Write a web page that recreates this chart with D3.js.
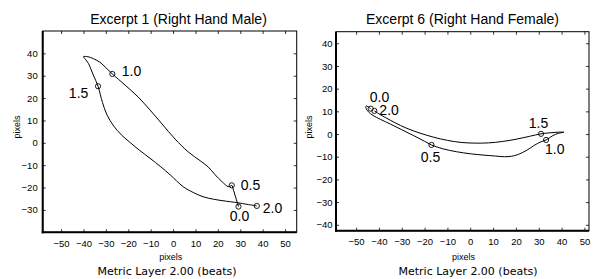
<!DOCTYPE html>
<html>
<head>
<meta charset="utf-8">
<script src="https://cdn.jsdelivr.net/npm/d3@7"></script>
<style>
  body { margin: 0; background: #fff; }
  svg { display: block; }
  .tick text { font-family: "Liberation Sans", Arial, sans-serif; font-size: 9.5px; fill: #000; }
</style>
</head>
<body>
<script>
// trajectory samples (pixels)
var maleX = [29.2, 28.6, 27.8, 27.0, 26.2, 25.5, 24.6, 21.9, 18.8, 15.6, 12.1, 6.7, 0.9, -4.9, -10.3, -15.6, -21.4, -27.1, -30.0, -32.6, -35.5, -38.0, -40.0, -39.2, -37.8, -35.6, -33.5, -31.5, -29.5, -26.5, -23.0, -19.0, -15.0, -10.3, -5.5, -1.3, 4.5, 9.0, 13.4, 18.0, 22.3, 29.0, 33.0, 37.4];
var maleY = [-28.5, -26.5, -23.8, -21.2, -19.0, -19.4, -19.6, -17.4, -14.3, -10.7, -8.0, -4.0, 1.7, 8.4, 14.7, 20.5, 25.8, 30.8, 33.6, 36.0, 37.6, 38.5, 38.5, 37.4, 35.5, 30.3, 25.3, 18.0, 12.5, 7.5, 3.5, 0.0, -3.3, -6.9, -10.7, -14.3, -19.6, -22.2, -24.1, -25.2, -25.9, -26.8, -27.5, -28.2];
var maleMarkX = [29.2, 26.2, -27.1, -33.5, 37.4];
var maleMarkY = [-28.5, -19.0, 30.8, 25.3, -28.2];

var femaleX = [-43.6, -44.8, -45.5, -45.7, -44.6, -42.6, -39.2, -35.0, -30.0, -25.0, -20.0, -17.0, -12.0, -6.0, 0.0, 6.0, 11.0, 15.0, 18.0, 21.0, 25.0, 28.0, 31.0, 33.2, 36.0, 38.5, 41.0, 38.0, 34.5, 31.0, 26.0, 20.0, 14.0, 8.0, 2.0, -4.0, -10.0, -16.0, -22.0, -28.0, -33.0, -37.0, -40.0, -42.0];
var femaleY = [11.2, 12.0, 12.4, 11.5, 9.8, 8.2, 6.4, 4.4, 1.9, -0.6, -3.2, -4.8, -6.5, -7.8, -8.7, -9.3, -9.7, -10.0, -9.8, -9.0, -7.0, -5.0, -3.4, -2.6, -0.8, 0.3, 0.8, 0.8, 0.5, 0.1, -1.0, -2.3, -3.3, -3.9, -4.0, -3.7, -2.8, -1.4, 0.4, 2.6, 5.0, 7.2, 8.9, 10.2];
var femaleMarkX = [-43.6, -17.0, 33.2, 31.0, -42.0];
var femaleMarkY = [11.2, -4.8, -2.6, 0.1, 10.2];

var markLabels = ["0.0", "0.5", "1.0", "1.5", "2.0"];
var xTicks = [-50, -40, -30, -20, -10, 0, 10, 20, 30, 40, 50];
var maleYTicks = [-30, -20, -10, 0, 10, 20, 30, 40];
var femaleYTicks = [-40, -30, -20, -10, 0, 10, 20, 30, 40];

var titles = ["Excerpt 1 (Right Hand Male)", "Excerpt 6 (Right Hand Female)"];

var svg = d3.select("body").append("svg")
    .attr("width", 594)
    .attr("height", 279);

var panels = [
  { xs: maleX, ys: maleY, mx: maleMarkX, my: maleMarkY, yTicks: maleYTicks, title: titles[0],
    left: 42.7, right: 296.7, top: 31, bottom: 232.3,
    xDom: [-58.2, 55.2], yDom: [-40, 50], labelGap: 5, titleX: 178.5, ylabX: 20, footX: 167,
    // label offsets (px) relative to marker: dx, dy, anchor
    offs: [[1, 14, "middle"], [9, 5, "start"], [9.4, 1.7, "start"], [-9.7, 12, "end"], [6, 7, "start"]] },
  { xs: femaleX, ys: femaleY, mx: femaleMarkX, my: femaleMarkY, yTicks: femaleYTicks, title: titles[1],
    left: 336, right: 589, top: 31.7, bottom: 230.7,
    xDom: [-58.8, 52.0], yDom: [-42.6, 45.1], labelGap: 3.5, titleX: 462.5, ylabX: 312, footX: 468,
    offs: [[-1, -7, "start"], [-1, 16.7, "middle"], [-1, 14, "start"], [-2.5, -6, "middle"], [5, 4.5, "start"]] }
];

panels.forEach(function(p) {
  var x = d3.scaleLinear().domain(p.xDom).range([p.left, p.right]);
  var y = d3.scaleLinear().domain(p.yDom).range([p.bottom, p.top]);
  var w = p.right - p.left, h = p.bottom - p.top;

  var g = svg.append("g");

  // frame
  g.append("rect")
      .attr("x", p.left).attr("y", p.top)
      .attr("width", w).attr("height", h)
      .attr("fill", "none").attr("stroke", "#000").attr("stroke-width", 1);

  // axes, ticks pointing inward
  g.append("g")
      .attr("class", "x axis")
      .attr("transform", "translate(0," + p.bottom + ")")
      .call(d3.axisBottom(x).tickValues(xTicks).tickSizeInner(-3).tickSizeOuter(0).tickPadding(8)
        .tickFormat(function(d) { return d < 0 ? "\u2212" + Math.abs(d) : d; }));
  g.append("g")
      .attr("transform", "translate(0," + p.top + ")")
      .call(d3.axisTop(x).tickValues(xTicks).tickSizeInner(-3).tickSizeOuter(0).tickFormat(""));
  g.append("g")
      .attr("class", "y axis")
      .attr("transform", "translate(" + p.left + ",0)")
      .call(d3.axisLeft(y).tickValues(p.yTicks).tickSizeInner(-3).tickSizeOuter(0).tickPadding(p.labelGap)
        .tickFormat(function(d) { return d < 0 ? "\u2212" + Math.abs(d) : d; }));
  g.append("g")
      .attr("transform", "translate(" + p.right + ",0)")
      .call(d3.axisRight(y).tickValues(p.yTicks).tickSizeInner(-3).tickSizeOuter(0).tickFormat(""));

  g.selectAll(".domain").remove();
  g.selectAll(".tick line").attr("stroke", "#000").attr("stroke-width", 0.8);

  // heavier left and bottom edges
  g.append("line")
      .attr("x1", p.left).attr("x2", p.left).attr("y1", p.top).attr("y2", p.bottom + 1)
      .attr("stroke", "#000").attr("stroke-width", 2);
  g.append("line")
      .attr("x1", p.left - 1).attr("x2", p.right).attr("y1", p.bottom).attr("y2", p.bottom)
      .attr("stroke", "#000").attr("stroke-width", 2);

  // trajectory
  var pts = p.xs.map(function(v, i) { return [v, p.ys[i]]; });
  var line = d3.line()
      .x(function(d) { return x(d[0]); })
      .y(function(d) { return y(d[1]); })
      .curve(d3.curveCatmullRom.alpha(0.5));
  g.append("path")
      .datum(pts)
      .attr("d", line)
      .attr("fill", "none")
      .attr("stroke", "#000")
      .attr("stroke-width", 1);

  // beat markers
  var marks = p.mx.map(function(v, i) { return { x: v, y: p.my[i], label: markLabels[i], off: p.offs[i] }; });
  g.selectAll("circle.mark")
      .data(marks)
      .enter().append("circle")
      .attr("class", "mark")
      .attr("cx", function(d) { return x(d.x); })
      .attr("cy", function(d) { return y(d.y); })
      .attr("r", 2.6)
      .attr("fill", "none")
      .attr("stroke", "#000")
      .attr("stroke-width", 0.9);
  g.selectAll("text.mark")
      .data(marks)
      .enter().append("text")
      .attr("class", "mark")
      .attr("x", function(d) { return x(d.x) + d.off[0]; })
      .attr("y", function(d) { return y(d.y) + d.off[1]; })
      .attr("text-anchor", function(d) { return d.off[2]; })
      .style("font-family", "Liberation Sans, Arial, sans-serif")
      .style("font-size", "14px")
      .text(function(d) { return d.label; });

  // title
  g.append("text")
      .attr("x", p.titleX).attr("y", 24)
      .attr("text-anchor", "middle")
      .style("font-family", "Liberation Sans, Arial, sans-serif")
      .style("font-size", "14px")
      .text(p.title);

  // axis labels
  g.append("text")
      .attr("x", (p.left + p.right) / 2 + 1).attr("y", 259.5)
      .attr("text-anchor", "middle")
      .style("font-family", "Liberation Sans, Arial, sans-serif")
      .style("font-size", "9px")
      .text("pixels");
  g.append("text")
      .attr("transform", "translate(" + p.ylabX + ",127) rotate(-90)")
      .attr("text-anchor", "middle")
      .style("font-family", "Liberation Sans, Arial, sans-serif")
      .style("font-size", "9px")
      .text("pixels");
  g.append("text")
      .attr("x", p.footX).attr("y", 274.5)
      .attr("text-anchor", "middle")
      .style("font-family", "DejaVu Sans, sans-serif")
      .style("font-size", "11px")
      .text("Metric Layer 2.00 (beats)");
});
</script>
</body>
</html>
